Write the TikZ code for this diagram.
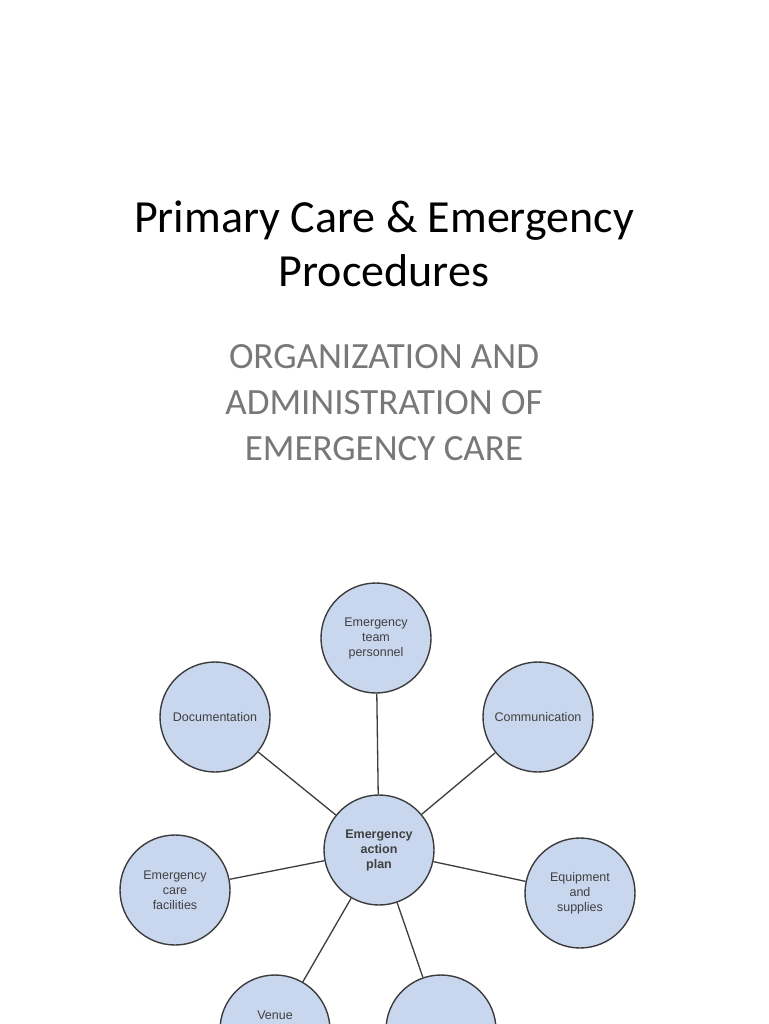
\documentclass[tikz,border=0pt]{standalone}
\usepackage{fontspec}
\setmainfont{Carlito}
\newfontfamily\arialf{Liberation Sans}
\definecolor{cfill}{RGB}{200,214,238}
\definecolor{cline}{RGB}{60,60,60}
\definecolor{subg}{RGB}{120,120,120}
\begin{document}
\begin{tikzpicture}[x=1pt,y=-1pt,
  bub/.style={circle,draw=cline,line width=1.4pt,fill=cfill,minimum size=110pt,inner sep=0pt,align=center,font=\arialf\fontsize{12.5}{15}\selectfont,text=black!75},
  link/.style={draw=cline,line width=1.3pt}]
\useasboundingbox (0,0) rectangle (768,1024);
\clip (0,0) rectangle (768,1024);
\node[font=\fontsize{46}{54}\selectfont,align=center] (t) at (384,244) {Primary Care \& Emergency\\Procedures};
\node[font=\fontsize{37}{46}\selectfont,align=center,text=subg] (s) at (384,403) {ORGANIZATION AND\\ADMINISTRATION OF\\EMERGENCY CARE};
\node[bub] (c) at (379,850) {\bfseries Emergency\\\bfseries action\\\bfseries plan};
\node[bub] (p) at (376,638) {Emergency\\team\\personnel};
\node[bub] (d) at (215,717) {Documentation};
\node[bub] (m) at (538,717) {Communication};
\node[bub] (f) at (175,890) {Emergency\\care\\facilities};
\node[bub] (e) at (580,893) {Equipment\\and\\supplies};
\node[bub] (v) at (275,1030) {Venue\\\phantom{x}\\\phantom{x}};
\node[bub] (o) at (441,1030) {};
\foreach \n in {p,d,m,f,e,v,o} \draw[link] (c) -- (\n);
\end{tikzpicture}
\end{document}
